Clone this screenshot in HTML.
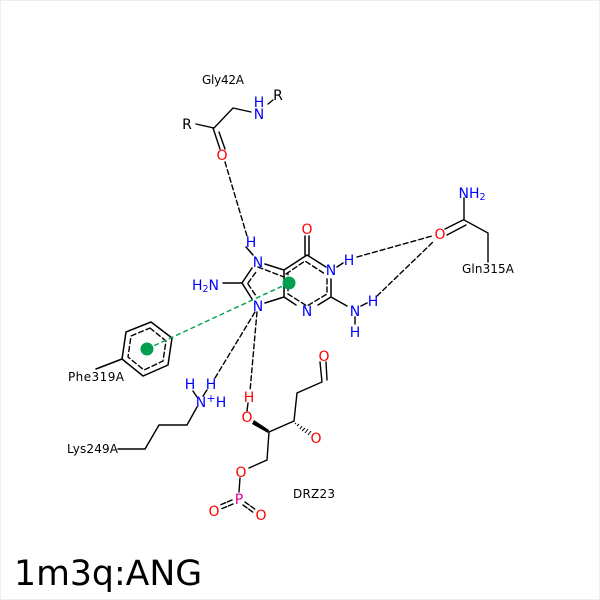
<!DOCTYPE html>
<html><head><meta charset="utf-8"><style>
html,body{margin:0;padding:0;background:#fff}
svg{display:block}
text{font-family:"DejaVu Sans",sans-serif;font-size:14px;text-anchor:middle}
.b{fill:#0000ff}.r{fill:#ff0000}.k{fill:#000}.m{fill:#e0009a}
.l{font-size:12px;text-anchor:start;fill:#000}
.s{font-size:9.5px}
</style></head><body>
<svg width="600" height="600" viewBox="0 0 600 600" xmlns="http://www.w3.org/2000/svg">
<rect x="0.5" y="0.5" width="599" height="599" fill="#fff" stroke="#eee"/>
<g fill="none" stroke="#000" stroke-width="1.4" stroke-linecap="round">
<!-- Gly -->
<path d="M196 124L214 128L233 108L251 112M268 104L273 100M213 128L220 149M219 132L225 149"/>
<!-- purine -->
<path stroke-width="1.5" d="M284 270L307 255L326 267M331 279V297L318 305M296 305L284 297V270L265 264M252 268L242 283L252 299M265 303L284 297M223 283H242M305 236V255M309 236V255M331 297L347 306M337 267L343 263M361 306L367 303M246 247L253 255"/>
<path stroke-dasharray="5 3" d="M286 274L305 261L325 274M327 279V294L307 306L288 294V274M258 267L284 277M248 283L256 272M248 284L256 296"/>
<path d="M355 317V324"/>
<!-- Gln -->
<path d="M464 198V220L488 233V262M445 229L463 220M447 235L466 225"/>
<!-- Phe -->
<path stroke-width="1.5" d="M151 322L172 338L168 365L143 376L122 359L126 332ZM122 359L96 369"/>
<path stroke-dasharray="5 3" d="M150 328L166 341L163 361L144 370L128 357L131 336Z"/>
<!-- Lys -->
<path d="M197 407L187 425H159L145 449H118M193 391L197 397M207 390L203 396"/>
<!-- DRZ -->
<path d="M320 362L322 382L297 393L294 421L269 432L267 460L249 468M326 362L327 380M248 403L247 411M240 478L239 492"/>
<path d="M233 504L221 509M232 500L220 505" stroke-dasharray="5 2"/>
<path d="M245 502L256 510M243 505L254 513" stroke-dasharray="5 2"/>
<!-- H-bonds -->
<path stroke-width="1.4" stroke-dasharray="5 3" d="M225 162L247 236M357 257L432 236M377 296L433 242M215 378L255 312M257 312L250 391"/>
</g>
<path d="M254 420L269 430L268 433L252 424Z" fill="#000"/>
<g stroke="#000" stroke-width="1"><path d="M296 423l-1 1M299 424l-2 2M302 426l-2 3M305 428l-3 3M308 429l-3 4M311 431l-3 4"/></g>
<path d="M147 349L289 283" fill="none" stroke="#00a050" stroke-width="1.4" stroke-dasharray="5 3"/>
<circle cx="147" cy="349" r="6.5" fill="#00a050"/>
<circle cx="289" cy="283" r="6.5" fill="#00a050"/>
<!-- atoms -->
<text class="k" x="278" y="100">R</text>
<text class="b" x="259" y="107">H</text>
<text class="b" x="259" y="119">N</text>
<text class="k" x="187" y="129">R</text>
<text class="r" x="222" y="160">O</text>
<text class="b" x="251" y="247">H</text>
<text class="b" x="258" y="267">N</text>
<text class="b" x="258" y="311">N</text>
<text class="b" x="205.500" y="290">H<tspan class="s" dy="2">2</tspan><tspan dy="-2">N</tspan></text>
<text class="r" x="307" y="234">O</text>
<text class="b" x="331" y="275">N</text>
<text class="b" x="349" y="265">H</text>
<text class="b" x="307" y="316">N</text>
<text class="b" x="355" y="316">N</text>
<text class="b" x="373" y="306">H</text>
<text class="b" x="355" y="337">H</text>
<text class="b" x="472" y="198">NH<tspan class="s" dy="2">2</tspan></text>
<text class="r" x="440" y="239">O</text>
<text class="b" x="190" y="389">H</text>
<text class="b" x="211" y="389">H</text>
<text class="b" x="201" y="407">N</text>
<text class="b" x="211" y="402" style="font-size:11px">+</text>
<text class="b" x="221" y="407">H</text>
<text class="r" x="249" y="402">H</text>
<text class="r" x="247" y="422">O</text>
<text class="r" x="324" y="361">O</text>
<text class="r" x="316" y="443">O</text>
<text class="r" x="241" y="477">O</text>
<text class="m" x="239" y="504">P</text>
<text class="r" x="214" y="516">O</text>
<text class="r" x="261" y="520">O</text>
<!-- labels -->
<text class="l" x="202" y="84" textLength="42">Gly42A</text>
<text class="l" x="462" y="273" textLength="52">Gln315A</text>
<text class="l" x="68" y="381" textLength="56">Phe319A</text>
<text class="l" x="67" y="453" textLength="51">Lys249A</text>
<text class="l" x="293" y="498" textLength="42">DRZ23</text>
<text x="14" y="585" style="font-size:34.7px;text-anchor:start" class="k">1m3q:ANG</text>
</svg>
</body></html>
